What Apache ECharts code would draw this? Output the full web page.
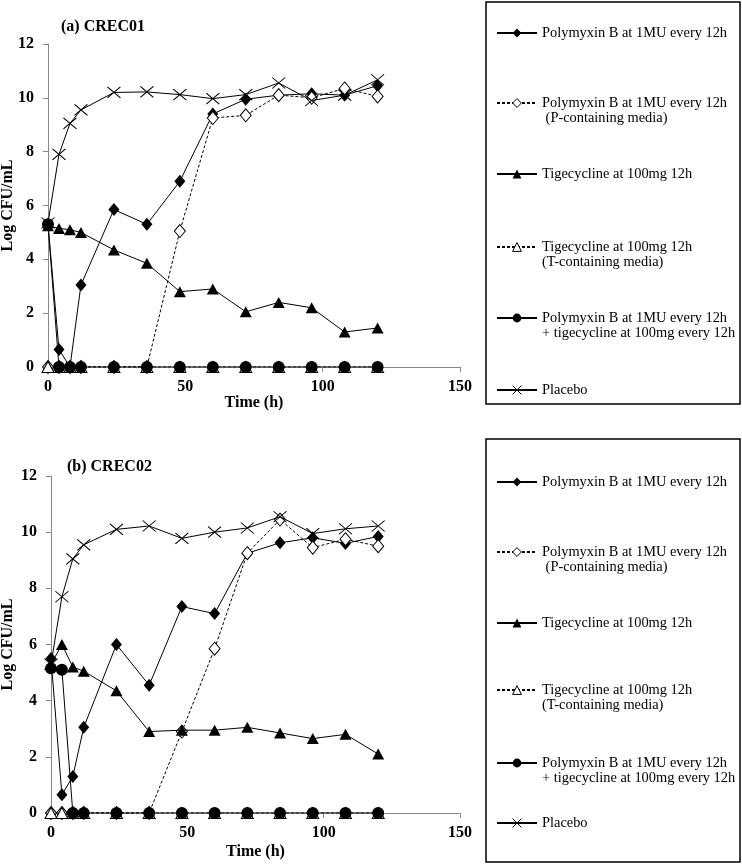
<!DOCTYPE html>
<html><head><meta charset="utf-8">
<script src="https://cdn.jsdelivr.net/npm/echarts@6/dist/echarts.min.js"></script>
<style>html,body{margin:0;padding:0;background:#fff}#c{width:742px;height:864px}</style>
</head><body><div id="c"></div>
<script>
// ---- data ----
const times = [0, 4, 8, 12, 24, 36, 48, 60, 72, 84, 96, 108, 120];

// (a) CREC01
const a_pmb     = [5.3, 0.65, 0, 3.05, 5.85, 5.3, 6.9, 9.4, 9.95, 10.1, 10.15, 10.1, 10.45];
const a_pmbP    = [0, 0, 0, 0, 0, 0, 5.05, 9.25, 9.35, 10.1, 10.0, 10.35, 10.05];
const a_tgc     = [5.25, 5.15, 5.1, 5.0, 4.35, 3.85, 2.8, 2.9, 2.05, 2.4, 2.2, 1.3, 1.45];
const a_tgcT    = [0, 0, 0, 0, 0, 0, 0, 0, 0, 0, 0, 0, 0];
const a_combo   = [5.3, 0, 0, 0, 0, 0, 0, 0, 0, 0, 0, 0, 0];
const a_placebo = [5.35, 7.9, 9.05, 9.55, 10.2, 10.22, 10.12, 9.97, 10.12, 10.55, 9.9, 10.1, 10.67];

// (b) CREC02
const b_pmb     = [5.5, 0.65, 1.3, 3.05, 6.0, 4.55, 7.35, 7.1, 9.25, 9.62, 9.8, 9.6, 9.85];
const b_pmbP    = [0, 0, 0, 0, 0, 0, 2.9, 5.85, 9.25, 10.45, 9.45, 9.75, 9.5];
const b_tgc     = [5.3, 6.0, 5.2, 5.05, 4.35, 2.9, 2.95, 2.95, 3.05, 2.85, 2.65, 2.8, 2.1];
const b_tgcT    = [0, 0, 0, 0, 0, 0, 0, 0, 0, 0, 0, 0, 0];
const b_combo   = [5.15, 5.1, 0, 0, 0, 0, 0, 0, 0, 0, 0, 0, 0];
const b_placebo = [5.3, 7.7, 9.05, 9.55, 10.1, 10.22, 9.78, 10.0, 10.15, 10.55, 9.95, 10.12, 10.22];

const panelTitles = ['(a) CREC01', '(b) CREC02'];
const seriesNames = [
  'Polymyxin B at 1MU every 12h',
  'Polymyxin B at 1MU every 12h (P-containing media)',
  'Tigecycline at 100mg 12h',
  'Tigecycline at 100mg 12h (T-containing media)',
  'Polymyxin B at 1MU every 12h + tigecycline at 100mg every 12h',
  'Placebo'
];
const legendLines = [
  ['Polymyxin B at 1MU every 12h'],
  ['Polymyxin B at 1MU every 12h', ' (P-containing media)'],
  ['Tigecycline at 100mg 12h'],
  ['Tigecycline at 100mg 12h', '(T-containing media)'],
  ['Polymyxin B at 1MU every 12h', '+ tigecycline at 100mg every 12h'],
  ['Placebo']
];
const xTicks = {min: 0, max: 150, interval: 50};
const yTicks = {min: 0, max: 12, interval: 2};

// ---- styles ----
const FONT = 'Liberation Serif';
const styles = [
  {symbol: 'diamond', symbolSize: [11, 13], itemStyle: {color: '#000'}, lineStyle: {color: '#000', width: 1, type: 'solid'}},
  {symbol: 'diamond', symbolSize: [11, 13], itemStyle: {color: '#fff', borderColor: '#000', borderWidth: 1}, lineStyle: {color: '#000', width: 1, type: [3, 2]}},
  {symbol: 'triangle', symbolSize: [12, 11], itemStyle: {color: '#000'}, lineStyle: {color: '#000', width: 1, type: 'solid'}},
  {symbol: 'triangle', symbolSize: [12, 11], itemStyle: {color: '#fff', borderColor: '#000', borderWidth: 1}, lineStyle: {color: '#000', width: 1, type: [3, 2]}},
  {symbol: 'circle', symbolSize: 12, itemStyle: {color: '#000'}, lineStyle: {color: '#000', width: 1, type: 'solid'}},
  {symbol: 'path://M0,0L12,10M12,0L0,10', symbolSize: [13, 11], itemStyle: {color: 'rgba(0,0,0,0)', borderColor: '#000', borderWidth: 1}, lineStyle: {color: '#000', width: 1, type: 'solid'}}
];

const panels = [
  {data: [a_pmb, a_pmbP, a_tgc, a_tgcT, a_combo, a_placebo], grid: {left: 48, top: 44, width: 412, height: 323},
   title: {left: 61, top: 19}, nameGapX: 28, nameGapY: 32, legendCenters: [33, 103, 174, 247, 318, 390], box: {x: 486, y: 2, width: 254, height: 402}},
  {data: [b_pmb, b_pmbP, b_tgc, b_tgcT, b_combo, b_placebo], grid: {left: 51, top: 476, width: 409, height: 337},
   title: {left: 67, top: 459}, nameGapX: 31, nameGapY: 35, legendCenters: [482, 552, 623, 690, 763, 823], box: {x: 486, y: 439, width: 254, height: 423}}
];

const LH = 15;
const option = {
  animation: false,
  backgroundColor: '#fff',
  title: [], grid: [], xAxis: [], yAxis: [], series: [], legend: [], graphic: []
};

panels.forEach((p, pi) => {
  option.title.push({text: panelTitles[pi], left: p.title.left, top: p.title.top, padding: 0,
    textStyle: {fontFamily: FONT, fontWeight: 'bold', fontSize: 16, color: '#000'}});
  option.grid.push(Object.assign({outerBoundsMode: 'none', containLabel: false}, p.grid));
  const axisCommon = {
    axisLine: {show: true, onZero: false, lineStyle: {color: '#888', width: 1}},
    axisTick: {show: true, inside: false, length: 5, lineStyle: {color: '#888', width: 1}},
    splitLine: {show: false},
    nameMoveOverlap: false,
    nameTextStyle: {fontFamily: FONT, fontWeight: 'bold', fontSize: 16, color: '#000'}
  };
  option.xAxis.push(Object.assign({type: 'value', gridIndex: pi, min: xTicks.min, max: xTicks.max, interval: xTicks.interval,
    name: 'Time (h)', nameLocation: 'middle', nameGap: p.nameGapX,
    axisLabel: {margin: 12, fontFamily: FONT, fontWeight: 'bold', fontSize: 16, color: '#000'}}, axisCommon));
  option.yAxis.push(Object.assign({type: 'value', gridIndex: pi, min: yTicks.min, max: yTicks.max, interval: yTicks.interval,
    name: 'Log CFU/mL', nameLocation: 'middle', nameGap: p.nameGapY,
    axisLabel: {margin: 14, fontFamily: FONT, fontWeight: 'bold', fontSize: 16, color: '#000'}}, axisCommon));
  p.data.forEach((arr, si) => {
    const st = styles[si];
    option.series.push({
      type: 'line', name: seriesNames[si], xAxisIndex: pi, yAxisIndex: pi,
      data: times.map((t, i) => [t, arr[i]]),
      symbol: st.symbol, symbolSize: st.symbolSize, showSymbol: true,
      itemStyle: st.itemStyle, lineStyle: st.lineStyle,
      emphasis: {disabled: true}, z: 2 + si
    });
  });
  seriesNames.forEach((nm, si) => {
    const lines = legendLines[si];
    const multi = lines.length > 1;
    const c = p.legendCenters[si];
    option.legend.push({
      data: [nm], orient: 'vertical', left: 496, top: multi ? c - 1.5 * LH : c - LH / 2,
      padding: 0, itemWidth: 40, itemHeight: 11, selectedMode: false,
      itemStyle: {borderWidth: 1},
      formatter: () => multi ? '\n' + lines[0] + '\n' + lines[1] : lines[0],
      textStyle: {fontFamily: FONT, fontSize: 14.4, color: '#000', lineHeight: LH}
    });
  });
  option.graphic.push({type: 'rect', shape: p.box, style: {fill: 'none', stroke: '#000', lineWidth: 1.5}, silent: true});
});

const chart = echarts.init(document.getElementById('c'), null, {renderer: 'canvas'});
chart.setOption(option);
</script>
</body></html>
